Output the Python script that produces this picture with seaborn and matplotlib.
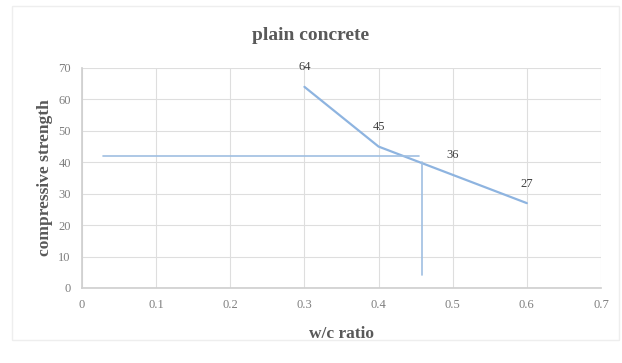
import matplotlib
matplotlib.use("Agg")
import matplotlib.pyplot as plt
import seaborn as sns
import pandas as pd
from matplotlib.patches import Rectangle

# data
wc_ratio = [0.3, 0.4, 0.5, 0.6]
strength = [64, 45, 36, 27]
point_labels = ["64", "45", "36", "27"]
h_line_x = [0.028, 0.455]
h_line_y = [42.1, 42.1]
v_line_x = [0.458, 0.458]
v_line_y = [40.2, 4.1]
x_ticks = [0, 0.1, 0.2, 0.3, 0.4, 0.5, 0.6, 0.7]
x_tick_labels = ["0", "0.1", "0.2", "0.3", "0.4", "0.5", "0.6", "0.7"]
y_ticks = [0, 10, 20, 30, 40, 50, 60, 70]

sns.set_theme(style="white")
plt.rcParams['font.family'] = ['Liberation Serif', 'DejaVu Serif']

fig = plt.figure(figsize=(6.22, 3.63), dpi=100)
ax = fig.add_axes([82 / 622, 1 - 288 / 363, (601 - 82) / 622, (288 - 68) / 363])

line_color = "#8eb4e0"
df = pd.DataFrame({"x": wc_ratio, "y": strength})
sns.lineplot(data=df, x="x", y="y", ax=ax, color=line_color, linewidth=1.6,
             sort=False, estimator=None)
sns.lineplot(x=h_line_x, y=h_line_y, ax=ax, color="#9fbfe2", linewidth=1.2,
             sort=False, estimator=None)
sns.lineplot(x=v_line_x, y=v_line_y, ax=ax, color="#9fbfe2", linewidth=1.2,
             sort=False, estimator=None)

for x, y, t in zip(wc_ratio, strength, point_labels):
    ax.annotate(t, (x, y), xytext=(0, 14), textcoords="offset points",
                ha="center", va="center", fontsize=9, color="#404040")

ax.set_xlim(0, 0.7)
ax.set_ylim(0, 70)
ax.set_xticks(x_ticks)
ax.set_xticklabels(x_tick_labels)
ax.set_yticks(y_ticks)
ax.grid(True, color="#dedede", linewidth=0.8)
for s in ["top", "right"]:
    ax.spines[s].set_visible(False)
ax.spines["left"].set_color("#d0d0d0")
ax.spines["bottom"].set_color("#d0d0d0")
ax.tick_params(axis="both", labelsize=9, labelcolor="#7f7f7f", length=0, pad=8)

ax.set_xlabel("w/c ratio", fontsize=12.5, fontweight="bold", color="#595959", labelpad=11)
ax.set_ylabel("compressive strength", fontsize=12.5, fontweight="bold", color="#595959", labelpad=4)
fig.text(0.5, 1 - 35 / 363, "plain concrete", ha="center", va="center",
         fontsize=14, fontweight="bold", color="#595959")

fig.patches.append(Rectangle((12 / 622, 1 - 340 / 363), (619 - 12) / 622, (340 - 6) / 363,
                             transform=fig.transFigure, fill=False,
                             edgecolor="#eeeeee", linewidth=1.0))

fig.savefig("out.png", dpi=100)
